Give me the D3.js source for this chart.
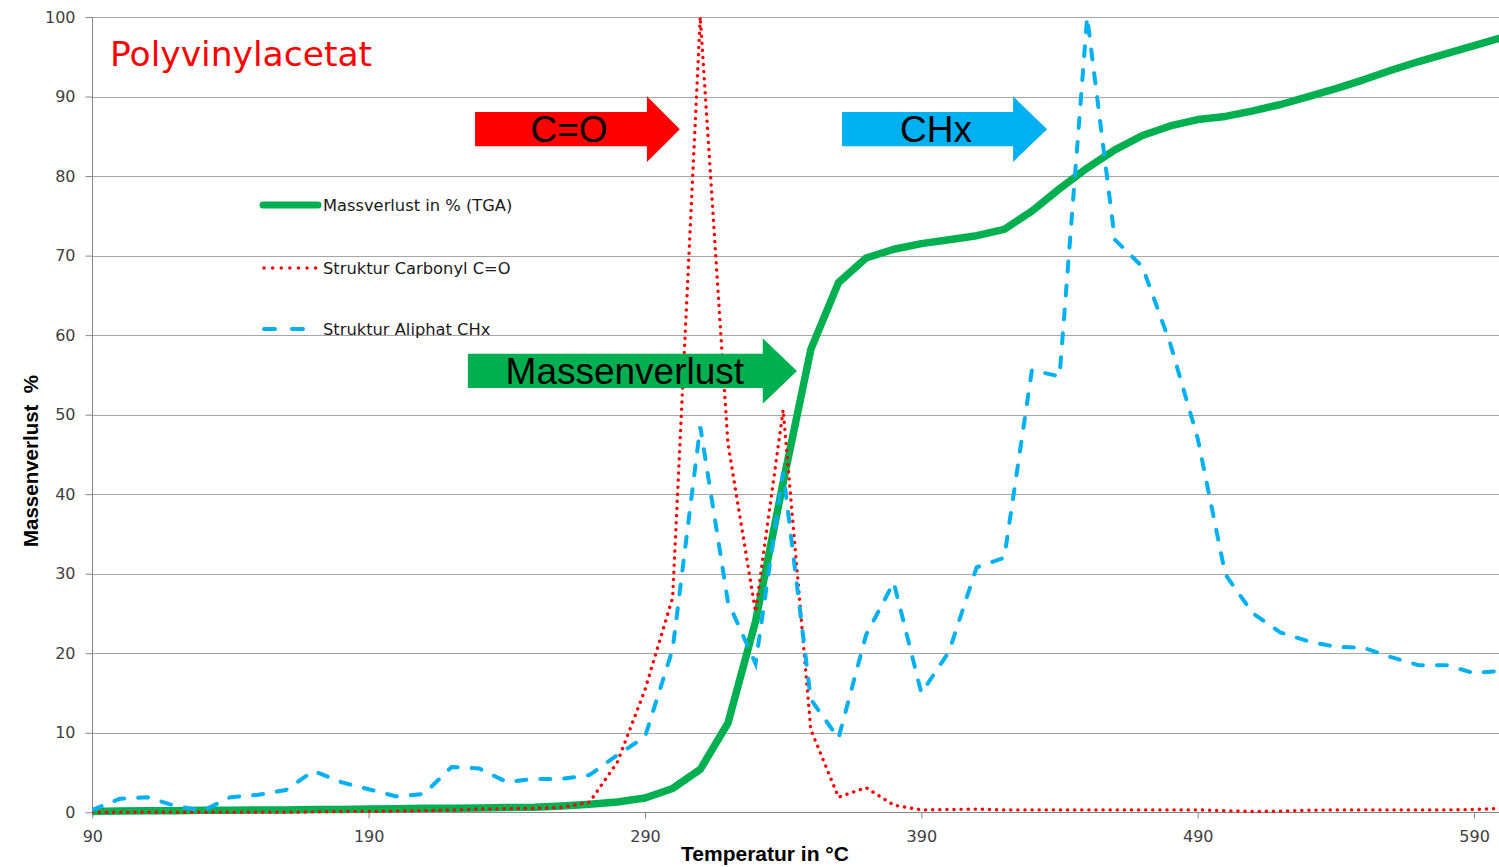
<!DOCTYPE html>
<html><head><meta charset="utf-8">
<script src="https://cdn.jsdelivr.net/npm/d3@7"></script>
<style>body{margin:0;background:#fff} svg{display:block}</style>
</head><body><svg id="c" width="1499" height="867"></svg>
<script>
const temperatures = [90,100,110,120,130,140,150,160,170,180,190,200,210,220,230,240,250,260,270,280,290,300,310,320,330,340,350,360,370,380,390,400,410,420,430,440,450,460,470,480,490,500,510,520,530,540,550,560,570,580,590,600];
const massLoss = [0.1,0.15,0.2,0.2,0.25,0.25,0.3,0.3,0.35,0.35,0.4,0.45,0.5,0.5,0.55,0.6,0.65,0.8,1.0,1.3,1.8,3.0,5.4,11.2,24,41.5,58.2,66.6,69.7,70.8,71.5,72.0,72.5,73.3,75.6,78.4,81.0,83.3,85.1,86.3,87.1,87.5,88.2,89.0,90.0,91.0,92.1,93.3,94.4,95.4,96.4,97.4];
const carbonyl = [0,0,0,0,0,0,0,0,0.05,0.1,0.1,0.15,0.2,0.3,0.4,0.45,0.5,0.6,1.3,6.3,15.4,27,100,46.4,25.2,50.6,10.4,1.9,3.1,0.9,0.3,0.35,0.4,0.3,0.3,0.3,0.3,0.3,0.3,0.3,0.3,0.2,0.1,0.15,0.25,0.3,0.3,0.3,0.3,0.3,0.35,0.5];
const aliphatic = [0.3,1.7,1.9,0.8,0.2,1.9,2.2,2.8,5.2,3.8,2.9,2.0,2.3,5.7,5.5,3.8,4.2,4.2,4.7,7.2,9.5,20.5,48.5,26.5,18.7,42.8,14.2,9.3,22.3,28.9,15,20.2,30.8,32,55.6,54.8,100,72,68.6,59,47,29.9,25,22.6,21.5,20.8,20.7,19.5,18.5,18.5,17.5,17.8];
const xTickValues = [90,190,290,390,490,590];
const yTickValues = [0,10,20,30,40,50,60,70,80,90,100];
const seriesNames = ["Massverlust in % (TGA)","Struktur Carbonyl C=O","Struktur Aliphat CHx"];
const chartTitle = "Polyvinylacetat";
const xTitle = "Temperatur in °C";
const yTitle = "Massenverlust  %";
// annotation arrows (in data units): label, start, head base, tip, centre value
const arrowLabels = ["C=O","CHx","Massenverlust"];
const arrowStart = [228.5,361.3,225.9];
const arrowHeadBase = [290.7,423.2,332.6];
const arrowTip = [302.6,435.5,345.0];
const arrowCenter = [85.9,85.9,55.5];
const arrowTextAt = [262.5,395.3,282.7];

const colors = ["#00b050","#ff0000","#00b0f0"];
const svg = d3.select("#c");
const x = d3.scaleLinear().domain([90,600]).range([92.3,1501.7]);
const y = d3.scaleLinear().domain([0,100]).range([812.3,17]);
const W = 1499;

// gridlines
svg.append("g").selectAll("line").data(yTickValues.filter(v=>v>0)).join("line")
  .attr("x1",x(90)).attr("x2",W)
  .attr("y1",d=>Math.round(y(d))+0.5).attr("y2",d=>Math.round(y(d))+0.5)
  .attr("stroke","#a6a6a6").attr("stroke-width",1);

// axes
const yAxis = d3.axisLeft(y).tickValues(yTickValues).tickSize(7).tickPadding(10).tickFormat(d3.format("d"));
const gy = svg.append("g").attr("transform",`translate(${Math.round(x(90))+0.5},0)`).call(yAxis);
gy.select(".domain").attr("stroke","#868686").attr("d",`M0,${y(100)}V${y(0)}`);
gy.selectAll(".tick line").attr("stroke","#868686");
gy.selectAll(".tick text").attr("font-family","DejaVu Sans").attr("font-size",16).attr("fill","#404040");

const xAxis = d3.axisBottom(x).tickValues(xTickValues).tickSize(6).tickPadding(12).tickFormat(d3.format("d"));
const gx = svg.append("g").attr("transform",`translate(0,${Math.round(y(0))+0.5})`).call(xAxis);
gx.select(".domain").attr("stroke","#868686").attr("d",`M${x(90)},0H${W}`);
gx.selectAll(".tick line").attr("stroke","#868686");
gx.selectAll(".tick text").attr("font-family","DejaVu Sans").attr("font-size",16).attr("fill","#404040");

// clip
svg.append("clipPath").attr("id","plot").append("rect")
  .attr("x",x(90)).attr("y",y(100)-1).attr("width",W-x(90)).attr("height",y(0)-y(100)+6);

const line = d3.line().x((d,i)=>x(temperatures[i])).y(d=>y(d));
const lines = svg.append("g").attr("clip-path","url(#plot)");
lines.append("path").attr("d",line(massLoss)).attr("fill","none")
  .attr("stroke",colors[0]).attr("stroke-width",7.5).attr("stroke-linejoin","round").attr("stroke-linecap","round");
lines.append("path").attr("d",line(carbonyl)).attr("fill","none")
  .attr("stroke",colors[1]).attr("stroke-width",3.4).attr("stroke-linecap","round").attr("stroke-dasharray","0.1 7");
lines.append("path").attr("d",line(aliphatic)).attr("fill","none")
  .attr("stroke",colors[2]).attr("stroke-width",4).attr("stroke-linecap","round").attr("stroke-dasharray","10 14");

// legend
const legY = [205,268,329];
const leg = svg.append("g");
leg.append("line").attr("x1",263).attr("x2",318).attr("y1",legY[0]).attr("y2",legY[0])
  .attr("stroke",colors[0]).attr("stroke-width",7).attr("stroke-linecap","round");
leg.append("line").attr("x1",264).attr("x2",316).attr("y1",legY[1]).attr("y2",legY[1])
  .attr("stroke",colors[1]).attr("stroke-width",3.4).attr("stroke-linecap","round").attr("stroke-dasharray","0.1 8.5");
leg.append("line").attr("x1",264).attr("x2",304).attr("y1",legY[2]).attr("y2",legY[2])
  .attr("stroke",colors[2]).attr("stroke-width",4).attr("stroke-linecap","round").attr("stroke-dasharray","11 17");
leg.selectAll("text").data(seriesNames).join("text")
  .attr("x",323).attr("y",(d,i)=>legY[i]+6).text(d=>d)
  .attr("font-family","DejaVu Sans").attr("font-size",16.3).attr("fill","#1a1a1a");

// title
svg.append("text").attr("x",110).attr("y",66).text(chartTitle)
  .attr("font-family","DejaVu Sans").attr("font-size",34.5).attr("fill","#ff0000");

// axis titles
svg.append("text").attr("x",765).attr("y",861).attr("text-anchor","middle").text(xTitle)
  .attr("font-family","Liberation Sans, Arial").attr("font-weight","bold").attr("font-size",21).attr("fill","#000");
svg.append("text").attr("transform","translate(38,461) rotate(-90)").attr("text-anchor","middle").text(yTitle)
  .style("white-space","pre")
  .attr("font-family","Liberation Sans, Arial").attr("font-weight","bold").attr("font-size",20.5).attr("fill","#000");

// arrows
const arrowColors = ["#ff0000","#00b0f0","#00b050"];
const bodyHalf = 2.15, headHalf = 4.12;
arrowLabels.forEach((lab,i)=>{
  const c = arrowCenter[i];
  const pts = [
    [x(arrowStart[i]), y(c+bodyHalf)],
    [x(arrowHeadBase[i]), y(c+bodyHalf)],
    [x(arrowHeadBase[i]), y(c+headHalf)],
    [x(arrowTip[i]), y(c)],
    [x(arrowHeadBase[i]), y(c-headHalf)],
    [x(arrowHeadBase[i]), y(c-bodyHalf)],
    [x(arrowStart[i]), y(c-bodyHalf)]
  ];
  svg.append("polygon").attr("points",pts.map(p=>p.join(",")).join(" ")).attr("fill",arrowColors[i]);
  svg.append("text").attr("x",x(arrowTextAt[i])).attr("y",y(c)+13).attr("text-anchor","middle").text(lab)
    .attr("font-family","Liberation Sans, Arial").attr("font-size",37).attr("fill","#000");
});
</script></body></html>
